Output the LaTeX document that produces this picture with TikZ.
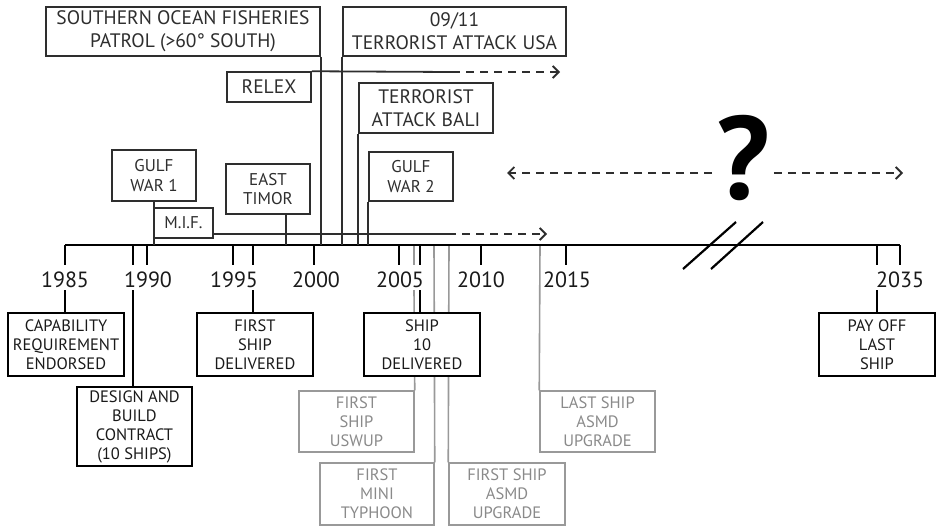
\documentclass[tikz,border=0pt]{standalone}
\usepackage{fontspec}
\setmainfont{PT Sans}
\usetikzlibrary{arrows.meta}

\definecolor{ink}{HTML}{1A1A1A}
\definecolor{topink}{HTML}{2E2E2E}
\definecolor{pale}{HTML}{999999}
\definecolor{paletext}{HTML}{8A8A8A}

\tikzset{
  box/.style={draw, rectangle, inner sep=0pt, align=center, line width=1.5pt, fill=white},
  topbox/.style={box, draw=topink, text=topink, font=\fontsize{19.5}{23}\selectfont},
  smallbox/.style={box, draw=topink, text=topink, font=\fontsize{17}{19.5}\selectfont},
  lowbox/.style={box, draw=black, text=ink, font=\fontsize{16.5}{19}\selectfont},
  palebox/.style={box, draw=pale, text=paletext, font=\fontsize{16.5}{19}\selectfont},
  year/.style={inner sep=0pt, minimum height=20pt, text=ink, font=\fontsize{22}{22}\selectfont},
  axisline/.style={line width=2.2pt, black},
  tick/.style={line width=2.2pt, black},
  link/.style={line width=1.8pt, topink},
  palelink/.style={line width=1.6pt, pale},
  future/.style={line width=1.8pt, topink, dash pattern=on 8pt off 6pt,
    -{Straight Barb[length=6pt,width=12pt,line width=1.8pt]}},
}

\begin{document}
\begin{tikzpicture}[x=1pt,y=-1pt]
\useasboundingbox (0,0) rectangle (937,528);

% points on the time axis
\coordinate (ax1985) at (65,245);
\coordinate (ax1989) at (133,245);
\coordinate (ax1990) at (147,245);
\coordinate (ax1995) at (233,245);
\coordinate (ax1996) at (253,245);
\coordinate (ax2000) at (314,245);
\coordinate (ax2005) at (399,245);
\coordinate (ax2006) at (420,245);
\coordinate (ax2010) at (481,245);
\coordinate (ax2015) at (566,245);
\coordinate (ax2034) at (877,245);
\coordinate (ax2035) at (900,245);
\coordinate (axTimor) at (286,245);
\coordinate (gA) at (414,245);
\coordinate (gB) at (434,245);
\coordinate (gC) at (449,245);
\coordinate (gD) at (540,245);

% ends of the open-ended periods
\coordinate (relexSolid) at (452,72);
\coordinate (relexTip) at (560,72);
\coordinate (mifSolid) at (448,234);
\coordinate (mifTip) at (547,234);
\coordinate (unknownL) at (507,173);
\coordinate (unknownR) at (903,173);

% year labels
\node[year] (y1985) at (65,280) {1985};
\node[year] (y1990) at (148,280) {1990};
\node[year] (y1995) at (234,280) {1995};
\node[year] (y2000) at (316,280) {2000};
\node[year] (y2005) at (400,280) {2005};
\node[year] (y2010) at (481,280) {2010};
\node[year] (y2015) at (567,280) {2015};
\node[year] (y2035) at (900,280) {2035};

% later upgrades (grey)
\node[palebox, minimum width=115pt, minimum height=61pt] (uswup) at (356.5,421.5) {FIRST\\SHIP\\USWUP};
\node[palebox, minimum width=114pt, minimum height=62pt] (typhoon) at (377,494) {FIRST\\MINI\\TYPHOON};
\node[palebox, minimum width=116pt, minimum height=62pt] (asmdA) at (507,494) {FIRST SHIP\\ASMD\\UPGRADE};
\node[palebox, minimum width=115pt, minimum height=61pt] (asmdB) at (597.5,421.5) {LAST SHIP\\ASMD\\UPGRADE};

\draw[palelink] (gA) -- ++(0,20);
\draw[palelink] (gA |- y2005.south) -- (uswup.north east);
\draw[palelink] (gB) -- (typhoon.north east);
\draw[palelink] (gC) -- (asmdA.north west);
\draw[palelink] (gD) -- (asmdB.north west);

% programme milestones
\node[lowbox, minimum width=116pt, minimum height=63pt] (capab) at (66,344.5) {CAPABILITY\\REQUIREMENT\\ENDORSED};
\node[lowbox, minimum width=115pt, minimum height=79pt] (design) at (134.5,426.5) {DESIGN AND\\BUILD\\CONTRACT\\(10 SHIPS)};
\node[lowbox, minimum width=116pt, minimum height=63pt] (firstship) at (255,344.5) {FIRST\\SHIP\\DELIVERED};
\node[lowbox, minimum width=116pt, minimum height=63pt] (shipten) at (422,344.5) {SHIP\\10\\DELIVERED};
\node[lowbox, minimum width=116pt, minimum height=63pt] (payoff) at (877,344.5) {PAY OFF\\LAST\\SHIP};

% time axis and ticks
\draw[axisline] (ax1985) -- (ax2035);
\foreach \t in {ax1985,ax1989,ax1990,ax1995,ax1996,ax2000,ax2005,ax2006,ax2010,ax2015,ax2034,ax2035}
  \draw[tick] (\t) -- ++(0,20);

\draw[tick] (ax1985 |- y1985.south) -- (ax1985 |- capab.north);
\draw[tick] (ax1989 |- y1990.south) -- (ax1989 |- design.north);
\draw[tick] (ax1996 |- y1995.south) -- (ax1996 |- firstship.north);
\draw[tick] (ax2006 |- y2005.south) -- (ax2006 |- shipten.north);
\draw[tick] (ax2034 |- y2035.south) -- (ax2034 |- payoff.north);

% break in the axis
\draw[tick] (683,269) -- (736,222);
\draw[tick] (711,269) -- (763,222);

% world events
\node[topbox, minimum width=274pt, minimum height=49pt] (southern) at (183,31.5) {SOUTHERN OCEAN FISHERIES\\PATROL (>60° SOUTH)};
\node[topbox, minimum width=223pt, minimum height=49pt] (nineeleven) at (454.5,31.5) {09/11\\TERRORIST ATTACK USA};
\node[topbox, minimum width=84pt, minimum height=30pt] (relex) at (269,87) {RELEX};
\node[topbox, minimum width=134pt, minimum height=50pt] (bali) at (426,108) {TERRORIST\\ATTACK BALI};
\node[smallbox, minimum width=84pt, minimum height=49pt] (gulftwo) at (411,176.5) {GULF\\WAR 2};
\node[smallbox, minimum width=84pt, minimum height=51pt] (gulfone) at (154,175.5) {GULF\\WAR 1};
\node[smallbox, minimum width=84pt, minimum height=50pt] (timor) at (268,189) {EAST\\TIMOR};
\node[smallbox, minimum width=59pt, minimum height=30pt] (mif) at (183.5,223) {M.I.F.};

\draw[link] (gulfone.south) -- (gulfone.south |- ax1985);
\draw[link] (axTimor |- timor.south) -- (axTimor);
\draw[link] (southern.south east) -- (southern.south east |- ax1985);
\draw[link] (nineeleven.south west) -- (nineeleven.south west |- ax1985);
\draw[link] (bali.south west) -- (bali.south west |- ax1985);
\draw[link] (gulftwo.south west) -- (gulftwo.south west |- ax1985);

\draw[link] (relex.north east) -- (relexSolid);
\draw[future] (relexSolid) -- (relexTip);
\draw[link] (mif.east |- mifSolid) -- (mifSolid);
\draw[future] (mifSolid) -- (mifTip);

% the open future
\node[inner sep=0pt, font=\fontsize{118}{118}\selectfont\bfseries] (unknown) at (743,158) {?};
\draw[future, shorten <=4pt] (unknown.west |- unknownL) -- (unknownL);
\draw[future, shorten <=4pt] (unknown.east |- unknownR) -- (unknownR);
\end{tikzpicture}
\end{document}
